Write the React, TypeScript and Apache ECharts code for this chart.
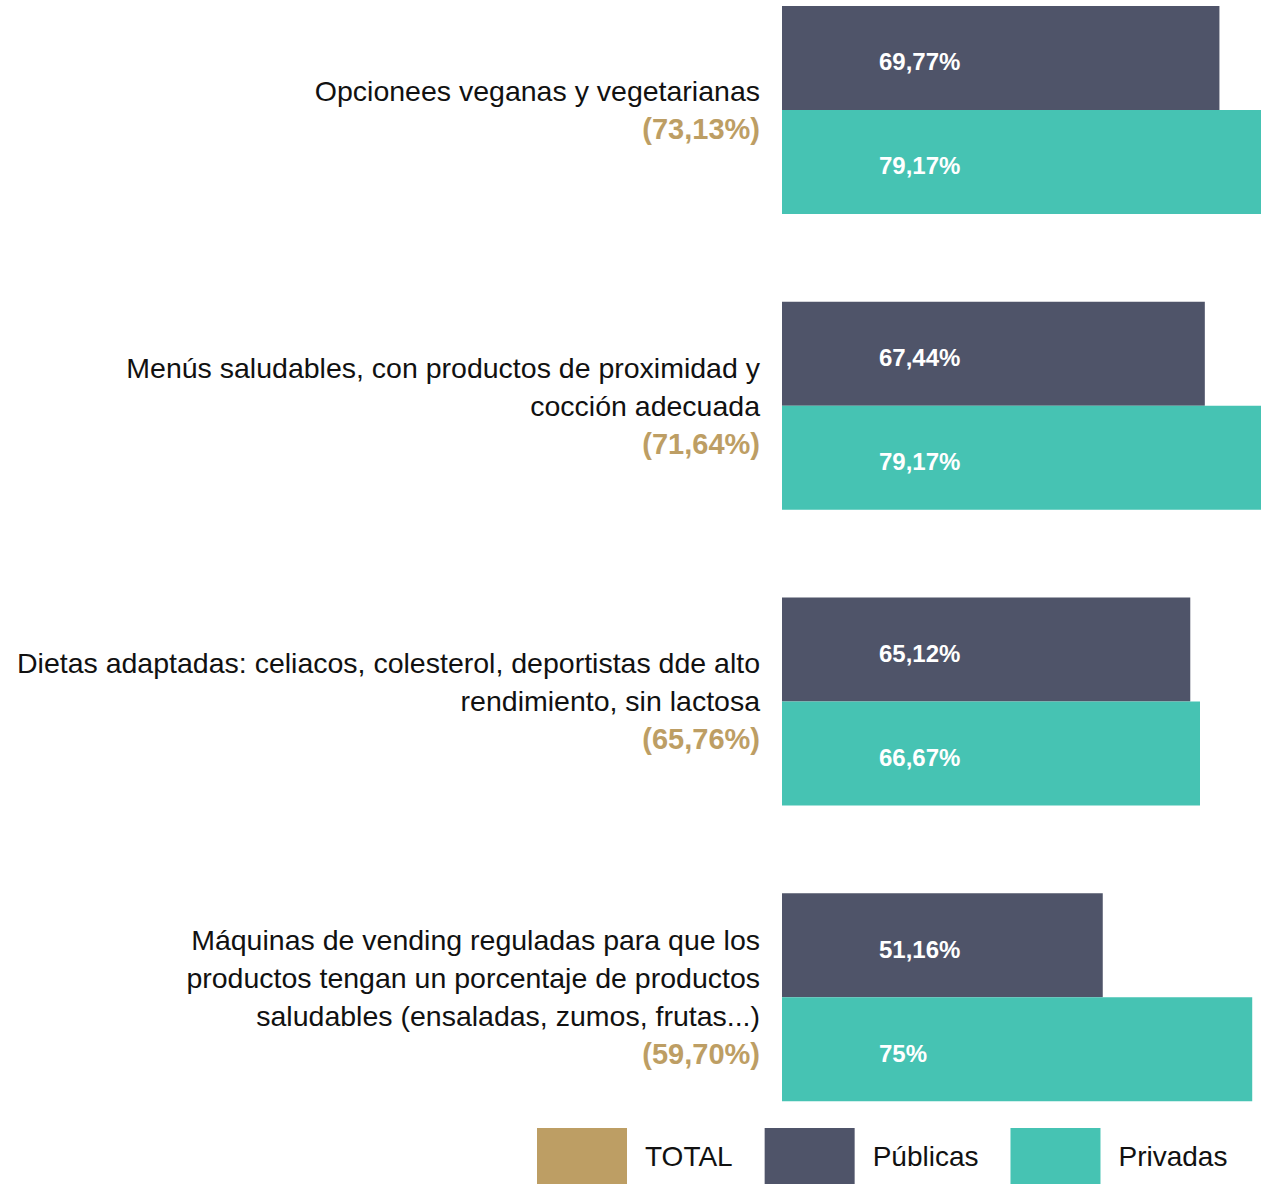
import React, { useEffect, useRef } from "react";
import * as echarts from "echarts";

const categories = [
  "Opcionees veganas y vegetarianas",
  "Menús saludables, con productos de proximidad y\ncocción adecuada",
  "Dietas adaptadas: celiacos, colesterol, deportistas dde alto\nrendimiento, sin lactosa",
  "Máquinas de vending reguladas para que los\nproductos tengan un porcentaje de productos\nsaludables (ensaladas, zumos, frutas...)",
];
const totalLabels = ["73,13%", "71,64%", "65,76%", "59,70%"];
const publicas = [69.77, 67.44, 65.12, 51.16];
const privadas = [79.17, 79.17, 66.67, 75];

const C_TOTAL = "#bd9e64";
const C_PUB = "#4f5469";
const C_PRIV = "#46c3b3";
const FONT = "'Liberation Sans', Arial, sans-serif";

const fmt = (v: number) => v.toFixed(2).replace(/\.?0+$/, "").replace(".", ",") + "%";

export default function App() {
  const ref = useRef<HTMLDivElement>(null);
  useEffect(() => {
    document.body.style.margin = "0";
    const chart = echarts.init(ref.current!, null, { renderer: "svg" });
    const barLabel = {
      show: true,
      position: [97, "50%"],
      verticalAlign: "middle",
      color: "#ffffff",
      fontWeight: "bold",
      fontSize: 24,
      fontFamily: FONT,
      offset: [0, 4],
      formatter: (p: any) => fmt(p.value),
    };
    chart.setOption({
      animation: false,
      textStyle: { fontFamily: FONT },
      grid: { left: 782, right: 0, top: 0, bottom: 39, containLabel: false },
      xAxis: {
        type: "value",
        min: 0,
        max: 76.4,
        show: false,
      },
      yAxis: {
        type: "category",
        inverse: true,
        data: categories,
        axisLine: { show: false },
        axisTick: { show: false },
        axisLabel: {
          margin: 22,
          align: "right",
          formatter: (value: string, idx: number) =>
            value
              .split("\n")
              .map((l) => `{a|${l}}`)
              .join("\n") + `\n{b|(${totalLabels[idx]})}`,
          rich: {
            a: { fontSize: 28.5, lineHeight: 38, color: "#111111", fontFamily: FONT, align: "right" },
            b: { fontSize: 29, lineHeight: 38, color: C_TOTAL, fontWeight: "bold", fontFamily: FONT, align: "right" },
          },
        },
      },
      legend: {
        left: 537,
        bottom: 0,
        padding: 0,
        icon: "rect",
        itemWidth: 90,
        itemHeight: 56,
        itemGap: 32,
        data: ["TOTAL", "Públicas", "Privadas"],
        textStyle: { fontSize: 28, color: "#111111", fontFamily: FONT, padding: [0, 0, 0, 13] },
      },
      series: [
        {
          name: "TOTAL",
          type: "line",
          data: [],
          itemStyle: { color: C_TOTAL },
          lineStyle: { color: C_TOTAL },
        },
        {
          name: "Públicas",
          type: "bar",
          data: publicas,
          barWidth: 104,
          barGap: "0%",
          itemStyle: { color: C_PUB },
          label: barLabel,
        },
        {
          name: "Privadas",
          type: "bar",
          data: privadas,
          barWidth: 104,
          barGap: "0%",
          itemStyle: { color: C_PRIV },
          label: barLabel,
        },
      ],
    });
    return () => chart.dispose();
  }, []);
  return (
    <div
      ref={ref}
      style={{ position: "absolute", left: 0, top: -38, width: 1261, height: 1222 }}
    />
  );
}
